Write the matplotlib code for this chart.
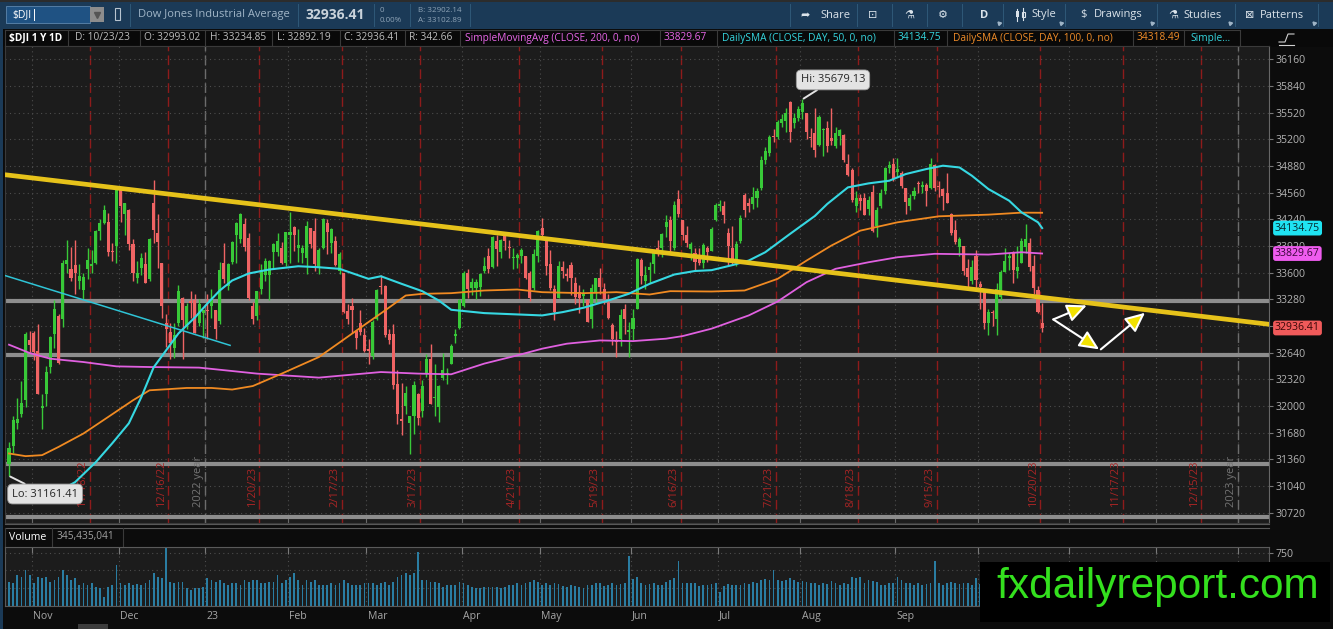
import numpy as np
import pandas as pd
import matplotlib
matplotlib.use("Agg")
import matplotlib.pyplot as plt
from matplotlib.patches import Rectangle, FancyArrowPatch
from matplotlib.transforms import blended_transform_factory as blend

plt.rcParams['font.family'] = ['Open Sans', 'DejaVu Sans']

# ---------------- data ($DJI daily, 10/24/22 - 10/23/23) ----------------
holidays = ['2022-11-24', '2022-12-26', '2023-01-02', '2023-01-16', '2023-02-20',
            '2023-04-07', '2023-05-29', '2023-06-19', '2023-07-04', '2023-09-04',
            '2023-11-23', '2023-12-25', '2024-01-01']

opens = [
    31300, 31520, 31800, 31900, 32070, 32790,
    32880, 32660, 31980, 32140, 32470, 32860, 33080, 33050, 33700, 33640, 33690, 33500, 33390, 33640, 33680, 33720, 34100, 34190, 34210, 33860, 33920,
    34600, 34300, 34350, 33940, 33540, 33650, 33700, 33520, 34440, 34070, 33720, 33000, 32890, 32700, 33000, 33300, 32960, 33260, 33270, 33000, 33120,
    33150, 33200, 33150, 33020, 33710, 33440, 33730, 34050, 34000, 34180, 34020, 33200, 33080, 33400, 33570, 33570, 33850, 33850, 33900, 33720,
    34050, 34150, 33900, 33840, 33770, 34130, 34100, 33670, 33900, 34200, 33960, 33980, 33620, 33600, 33140, 33200, 32900, 33000, 32850,
    32690, 32600, 33040, 33440, 33440, 32870, 32860, 32260, 31840, 32000, 31800, 31880, 32150, 31940, 32390, 32570, 32100, 31990, 32340, 32380, 32500, 32840, 32940,
    33200, 33600, 33420, 33420, 33430, 33620, 33800, 33670, 33980, 33850, 34070, 33910, 33780, 33770, 33800, 33800, 33600, 33420, 33800,
    34130, 34030, 33700, 33400, 33300, 33670, 33580, 33690, 33480, 33370, 33320, 33270, 33040, 33370, 33530, 33400, 33240, 32970, 32780, 32800, 33170, 32890,
    32920, 33160, 33750, 33500, 33630, 33700, 33900, 33900, 34150, 34230, 33900, 34480, 34230, 34050, 33880, 33840, 33760, 33720, 33900, 33860, 34230,
    34400, 34400, 34070, 33900, 33740, 33980, 34530, 34430, 34420, 34490, 34620, 34950, 35040, 35230, 35230, 35400, 35420, 35650, 35390, 35460,
    35530, 35520, 35220, 35270, 35130, 35310, 35340, 35220, 35120, 35240, 35250, 34900, 34830, 34400, 34500, 34500, 34360, 34570, 34160, 34400, 34580, 34850, 34900,
    34810, 34800, 34620, 34400, 34520, 34670, 34630, 34650, 34620, 34890, 34630, 34600, 34550, 34300, 34110, 33910, 33920, 33650, 33500, 33800,
    33460, 33370, 33000, 33130, 33050, 33310, 33610, 33770, 33830, 33620, 33720, 33910, 33960, 33680, 33390, 32993.02,
]
highs = [
    31570, 31880, 32100, 32300, 32890, 32900,
    32900, 32990, 32150, 32480, 32840, 33270, 33100, 33750, 33990, 33910, 33990, 33700, 33590, 33900, 33870, 34110, 34240, 34410, 34320, 33950, 34590,
    34600, 34430, 34360, 34000, 33740, 33830, 33850, 34010, 34710, 34300, 33720, 33100, 33000, 33000, 33450, 33310, 33240, 33380, 33350, 33290, 33150,
    33350, 33410, 33150, 33730, 33950, 33710, 33980, 34210, 34320, 34250, 34080, 33250, 33380, 33700, 33770, 33750, 33960, 34080, 33970, 34090,
    34330, 34160, 34120, 33930, 34220, 34130, 34250, 33900, 34260, 34240, 34130, 34040, 33850, 33600, 33220, 33300, 32910, 33150, 32940,
    32810, 33030, 33400, 33570, 33450, 32920, 32980, 32430, 32280, 32240, 31880, 32300, 32160, 32310, 32630, 32750, 32500, 32250, 32640, 32460, 32750, 32930, 33280,
    33620, 33640, 33540, 33520, 33590, 33790, 33890, 34040, 34050, 34000, 34080, 33990, 33890, 33830, 33900, 33800, 33620, 33880, 34110,
    34260, 34030, 33870, 33450, 33740, 33740, 33650, 33730, 33550, 33450, 33400, 33280, 33460, 33540, 33650, 33470, 33350, 33000, 32900, 33160, 33220, 33010,
    33160, 33780, 33770, 33680, 33730, 33860, 33990, 34070, 34290, 34280, 34460, 34590, 34230, 34160, 33970, 33890, 33900, 33950, 33920, 34150, 34440,
    34470, 34460, 34140, 34160, 33980, 34290, 34560, 34490, 34630, 34620, 35000, 35110, 35250, 35320, 35430, 35500, 35580, 35660, 35510, 35600,
    35679.13, 35520, 35330, 35580, 35490, 35340, 35420, 35580, 35350, 35320, 35260, 35020, 34860, 34580, 34540, 34550, 34520, 34650, 34390, 34600, 34870, 34940, 34980,
    34980, 34820, 34620, 34540, 34630, 34700, 34700, 34680, 34980, 34900, 34700, 34620, 34800, 34310, 34230, 34030, 33920, 33760, 33750, 33870,
    33500, 33400, 33170, 33150, 33480, 33630, 33890, 33830, 33860, 33920, 34020, 34180, 34010, 33810, 33440, 33234.85,
]
lows = [
    31161.41, 31440, 31720, 31870, 31990, 32650,
    32550, 32140, 31730, 32000, 32400, 32700, 32500, 32950, 33600, 33500, 33350, 33400, 33280, 33520, 33600, 33700, 33990, 34180, 33800, 33740, 33710,
    34210, 34050, 33870, 33500, 33480, 33570, 33470, 33500, 33950, 33660, 33060, 32710, 32570, 32580, 32960, 32570, 32920, 33060, 32880, 32960, 32820,
    32810, 33060, 32810, 32980, 33480, 33390, 33700, 33720, 33950, 33860, 33270, 32980, 33030, 33340, 33500, 33270, 33640, 33800, 33700, 33680,
    33710, 33860, 33730, 33720, 33580, 33890, 33620, 33580, 33880, 33820, 33830, 33680, 33580, 33120, 32990, 32880, 32680, 32850, 32650,
    32500, 32570, 33030, 33350, 32830, 32740, 32200, 31790, 31650, 31900, 31430, 31670, 31770, 31870, 32350, 32030, 31880, 31810, 32310, 32260, 32500, 32760, 32930,
    33190, 33300, 33330, 33290, 33320, 33600, 33600, 33660, 33680, 33770, 33870, 33780, 33640, 33650, 33710, 33520, 33260, 33390, 33730,
    34020, 33570, 33390, 33030, 33300, 33540, 33500, 33330, 33220, 33120, 33200, 33010, 32940, 33250, 33350, 33230, 33040, 32730, 32590, 32720, 32860, 32590,
    32790, 33160, 33460, 33400, 33480, 33590, 33800, 33790, 34030, 33850, 33870, 34270, 33990, 33910, 33750, 33620, 33690, 33660, 33730, 33860, 34220,
    34340, 34200, 33690, 33690, 33680, 33960, 34270, 34330, 34360, 34390, 34590, 34900, 35000, 35170, 35200, 35350, 35290, 35170, 35340, 35420,
    35440, 35200, 35110, 34990, 35120, 35000, 35050, 35130, 35090, 35130, 34930, 34760, 34450, 34330, 34350, 34290, 34290, 34090, 34030, 34370, 34540, 34790, 34700,
    34750, 34620, 34300, 34350, 34480, 34550, 34550, 34400, 34600, 34580, 34510, 34350, 34440, 34050, 33940, 33800, 33570, 33430, 33460, 33400,
    33170, 32920, 32850, 32960, 32850, 33270, 33610, 33630, 33480, 33540, 33720, 33830, 33620, 33350, 33120, 32892.19,
]
closes = [
    31500, 31837, 31839, 32033, 32862, 32733,
    32653, 32148, 32001, 32403, 32827, 33161, 32514, 33715, 33748, 33537, 33593, 33554, 33546, 33746, 33700, 34098, 34194, 34347, 33849, 33853, 34590,
    34395, 34430, 33947, 33596, 33598, 33781, 33476, 34005, 34109, 33966, 33202, 32920, 32758, 32850, 33376, 33027, 33204, 33242, 32876, 33221, 33147,
    33136, 33270, 32930, 33631, 33518, 33704, 33973, 34190, 34303, 33911, 33297, 33045, 33375, 33630, 33734, 33744, 33949, 33978, 33717, 34086,
    34093, 34054, 33926, 33891, 34157, 33949, 33700, 33869, 34246, 34089, 34128, 33697, 33827, 33130, 33045, 33154, 32817, 32889, 32657,
    32662, 33004, 33391, 33431, 32856, 32798, 32255, 31910, 31819, 32155, 31875, 32247, 31862, 32245, 32561, 32030, 32105, 32238, 32432, 32394, 32718, 32859, 33274,
    33601, 33402, 33483, 33485, 33587, 33685, 33647, 34030, 33886, 33987, 33977, 33897, 33787, 33809, 33875, 33531, 33302, 33826, 34098,
    34052, 33685, 33414, 33128, 33674, 33619, 33562, 33531, 33310, 33301, 33349, 33012, 33421, 33536, 33427, 33287, 33056, 32800, 32765, 33093, 33043, 32908,
    33062, 33763, 33563, 33573, 33665, 33834, 33877, 34066, 34212, 33979, 34408, 34299, 34054, 33952, 33947, 33727, 33715, 33927, 33853, 34122, 34408,
    34418, 34289, 33922, 33735, 33944, 34261, 34347, 34395, 34509, 34585, 34952, 35061, 35225, 35228, 35411, 35438, 35520, 35283, 35459, 35560,
    35631, 35283, 35216, 35066, 35473, 35314, 35123, 35176, 35281, 35308, 34946, 34766, 34475, 34501, 34464, 34289, 34473, 34099, 34347, 34560, 34853, 34890, 34722,
    34838, 34642, 34443, 34501, 34577, 34664, 34646, 34576, 34907, 34618, 34624, 34518, 34441, 34070, 33964, 34007, 33619, 33550, 33666, 33508,
    33433, 33002, 33130, 33120, 33408, 33605, 33739, 33805, 33631, 33670, 33985, 33998, 33665, 33414, 33127, 32936.41,
]
# volume, millions of shares
volumes = [
    344, 320, 438, 414, 509, 438,
    320, 414, 391, 414, 344, 367, 414, 509, 438, 367, 391, 297, 320, 297, 320, 273, 250, 132, 273, 297, 580,
    320, 297, 320, 297, 306, 297, 320, 367, 462, 414, 391, 815, 344, 320, 344, 344, 250, 226, 250, 250, 273,
    391, 367, 344, 367, 320, 297, 320, 320, 297, 367, 344, 367, 367, 320, 320, 344, 344, 438, 320, 367,
    414, 462, 367, 297, 367, 344, 367, 297, 297, 297, 320, 297, 320, 367, 320, 297, 297, 297, 320,
    320, 320, 297, 320, 344, 297, 344, 414, 438, 462, 438, 462, 754, 367, 367, 344, 344, 320, 273, 297, 297, 297, 344,
    320, 297, 273, 250, 250, 264, 273, 273, 273, 250, 273, 297, 297, 320, 297, 320, 344, 367, 344,
    300, 320, 297, 320, 310, 280, 270, 290, 280, 270, 260, 290, 300, 320, 330, 280, 300, 320, 300, 310, 320, 707,
    380, 414, 320, 300, 310, 330, 290, 300, 340, 370, 400, 640, 330, 320, 330, 320, 280, 290, 300, 310, 320,
    200, 280, 310, 300, 290, 300, 320, 310, 340, 330, 360, 380, 370, 509, 360, 350, 370, 400, 360, 340,
    350, 340, 330, 320, 300, 330, 310, 350, 330, 300, 320, 310, 414, 390, 414, 330, 360, 350, 340, 290, 300, 320, 330,
    414, 360, 330, 320, 300, 320, 300, 310, 320, 640, 320, 300, 330, 340, 330, 310, 330, 320, 300, 390,
    310, 340, 320, 300, 320, 290, 300, 280, 300, 290, 330, 350, 340, 360, 400, 345.435041,
]

# moving averages (bar index, value)
sma50_idx = [9, 16, 21, 25, 29, 32, 35, 38, 41, 45, 48, 51, 54, 58, 63, 70, 75, 80, 87, 90, 95,
             100, 104, 107, 115, 123, 129, 134, 139, 145, 150, 155, 161, 166, 170, 175, 179, 183,
             189, 195, 198, 203, 208, 213, 217, 222, 226, 230, 233, 237, 242, 245, 249, 250]
sma50_val = [30896, 31087, 31327, 31554, 31793, 32105, 32464, 32667, 32871, 33063, 33230,
             33386, 33506, 33590, 33638, 33677, 33665, 33646, 33526, 33557, 33466, 33378, 33266,
             33155, 33115, 33099, 33087, 33127, 33179, 33266, 33347, 33466, 33578, 33620, 33630,
             33690, 33745, 33845, 34065, 34280, 34424, 34623, 34671, 34703, 34783, 34843, 34883,
             34862, 34763, 34603, 34464, 34324, 34204, 34134.75]
sma100_idx = [0, 4, 8, 12, 18, 24, 30, 34, 38, 43, 49, 54, 59, 66, 75, 83, 91, 96, 100, 107, 115,
              123, 129, 139, 147, 155, 160, 170, 178, 186, 193, 199, 206, 215, 225, 237, 245, 250]
sma100_val = [31431, 31399, 31411, 31510, 31670, 31869, 32069, 32189, 32201, 32217, 32217, 32198,
              32240, 32389, 32588, 32868, 33147, 33326, 33346, 33354, 33386, 33398, 33366, 33354,
              33366, 33338, 33378, 33374, 33386, 33526, 33745, 33925, 34104, 34204, 34276, 34296,
              34320, 34318.49]
sma200_idx = [0, 5, 10, 18, 26, 34, 46, 54, 60, 75, 90, 99, 107, 115, 123, 129, 135, 143, 151,
              159, 163, 170, 179, 186, 193, 200, 208, 215, 224, 237, 245, 250]
sma200_val = [32736, 32636, 32568, 32528, 32476, 32468, 32461, 32420, 32389, 32341, 32408, 32389,
              32381, 32509, 32608, 32688, 32748, 32787, 32779, 32808, 32839, 32928, 33087, 33254,
              33486, 33646, 33725, 33785, 33826, 33817, 33845, 33829.67]

# drawings on the chart
trend_idx = [-1, 305]
trend_val = [34775, 32980]
short_trend_idx = [-1, 53.5]
short_trend_val = [33566, 32728]
support_levels = [33266, 32608, 31303, 30672]
arrow_from = [(252.7, 33039), (252.7, 33039), (264.2, 32680)]
arrow_to = [(260.8, 33207), (263.8, 32680), (274.9, 33119)]

price_ticks = list(range(30720, 36161, 320))
hidden_tick = 32960   # sits under the last-price tag

# ---------------- figure ----------------
W, H = 1333, 629
fig = plt.figure(figsize=(W / 100, H / 100), dpi=100, facecolor='#0c0c0c')


def box(x0, y0, x1, y1):
    return [x0 / W, 1 - y1 / H, (x1 - x0) / W, (y1 - y0) / H]


ui = fig.add_axes([0, 0, 1, 1])
ui.set_xlim(0, W)
ui.set_ylim(H, 0)
ui.axis('off')

# toolbar
ui.add_patch(Rectangle((0, 0), W, 29, fc='#1b3a57', ec='none'))
ui.add_patch(Rectangle((0, 0), W, 2, fc='#2c2c2c', ec='none'))
ui.add_patch(Rectangle((6, 6), 84, 17, fc='#1f5283', ec='#5d86ad', lw=0.6))
ui.text(12, 15, '$DJI', color='white', fontsize=7.5, va='center')
ui.plot([34, 34], [9, 20], color='white', lw=0.7)
ui.add_patch(Rectangle((90, 7), 14, 15, fc='#8d8d8d', ec='none'))
ui.plot([97], [14.5], marker='v', ms=4, color='#555555')
ui.add_patch(Rectangle((115, 8), 5, 12, fc='none', ec='#b8c4cf', lw=0.8))
for sx in [130, 298, 374, 410, 470, 790, 857, 892, 927, 962, 1003, 1065, 1157, 1235, 1318]:
    ui.plot([sx, sx], [4, 26], color='#2f5878', lw=0.7)
ui.text(138, 15, 'Dow Jones Industrial Average', color='#9fb4c6', fontsize=8, va='center')
ui.text(306, 15, '32936.41', color='#c9d2da', fontsize=10, fontweight='bold', va='center')
ui.text(380, 10, '0', color='#8ea3b6', fontsize=5.8, va='center')
ui.text(380, 20, '0.00%', color='#8ea3b6', fontsize=5.8, va='center')
ui.text(418, 10, 'B: 32902.14', color='#8ea3b6', fontsize=5.8, va='center')
ui.text(418, 20, 'A: 33102.89', color='#8ea3b6', fontsize=5.8, va='center')
tool_items = [(800, '➦'), (820, 'Share'), (868, '⊡'), (904, '⚗'), (938, '⚙'), (980, 'D'),
              (1031, 'Style'), (1080, '$'), (1094, 'Drawings'), (1168, '⚗'),
              (1183, 'Studies'), (1245, '⊠'), (1260, 'Patterns')]
for tx, tt in tool_items:
    ui.text(tx, 15, tt, color='#dbe3ea', fontsize=8, va='center',
            fontweight='bold' if tt == 'D' else 'normal')
# little candle icon next to "Style"
ui.plot([1017, 1017], [9, 21], color='#dbe3ea', lw=0.8)
ui.plot([1023, 1023], [8, 20], color='#dbe3ea', lw=0.8)
ui.add_patch(Rectangle((1015.5, 11), 3, 6, fc='#dbe3ea', ec='none'))
ui.add_patch(Rectangle((1021.5, 12), 3, 5, fc='none', ec='#dbe3ea', lw=0.8))
for tx in [999, 1061, 1152, 1230, 1314]:
    ui.plot([tx], [23], marker=(3, 0, 45), ms=3, color='#9fb4c6')

# study header row
ui.add_patch(Rectangle((0, 29), W, 18, fc='#090909', ec='none'))
ui.plot([5, 1240], [29.5, 29.5], color='#3a3a3a', lw=0.8)
ui.plot([5, 1240], [46, 46], color='#3a3a3a', lw=0.8)
for sx in [5, 68, 140, 205, 272, 340, 405, 460, 660, 717, 894, 947, 1133, 1184, 1240]:
    ui.plot([sx, sx], [29.5, 46], color='#3a3a3a', lw=0.8)
head_items = [
    (9, '$DJI 1 Y 1D', 'white'), (75, 'D: 10/23/23', '#bdbdbd'),
    (144, f'O: {opens[-1]:.2f}', '#bdbdbd'), (210, f'H: {highs[-1]:.2f}', '#bdbdbd'),
    (277, f'L: {lows[-1]:.2f}', '#bdbdbd'), (344, f'C: {closes[-1]:.2f}', '#bdbdbd'),
    (409, 'R: 342.66', '#bdbdbd'),
    (465, 'SimpleMovingAvg (CLOSE, 200, 0, no)', '#e866e8'), (664, f'{sma200_val[-1]:.2f}', '#e866e8'),
    (722, 'DailySMA (CLOSE, DAY, 50, 0, no)', '#35d6df'), (898, f'{sma50_val[-1]:.2f}', '#35d6df'),
    (953, 'DailySMA (CLOSE, DAY, 100, 0, no)', '#f08c28'), (1137, f'{sma100_val[-1]:.2f}', '#f08c28'),
    (1190, 'Simple...', '#35d6df'),
]
for tx, tt, tc in head_items:
    ui.text(tx, 38, tt, color=tc, fontsize=7.3, va='center',
            fontweight='bold' if tt.startswith('$DJI') else 'normal')
ui.plot([1279, 1285, 1288, 1294], [42, 42, 34, 34], color='#d0d0d0', lw=0.8)
ui.plot([1279, 1294], [44.5, 44.5], color='#d0d0d0', lw=0.8)

# left border and panel separators
ui.add_patch(Rectangle((0, 29), 3, H, fc='#1b3a57', ec='none'))
ui.plot([5, 1269], [523.5, 523.5], color='#5a5a5a', lw=0.8)
ui.plot([5, 1269], [527.5, 527.5], color='#5a5a5a', lw=0.8)
for sx in [5, 52, 123]:
    ui.plot([sx, sx], [527.5, 547], color='#3a3a3a', lw=0.8)
ui.text(9, 537, 'Volume', color='white', fontsize=7.6, va='center')
ui.text(57, 537, f'{volumes[-1] * 1e6:,.0f}', color='#a0a0a0', fontsize=7.3, va='center')
ui.add_patch(Rectangle((78, 624), 30, 5, fc='#3d3d3d', ec='none'))

# ---------------- price panel ----------------
n = len(closes)
idx = np.arange(n)
days = pd.bdate_range('2022-10-24', '2024-01-31', freq='C', holidays=holidays)
xlim = (-0.97, 304.9)

ax = fig.add_axes(box(5, 46, 1269, 523), facecolor='#1c1c1c')
ax.set_xlim(*xlim)
ax.set_ylim(30597, 36319)
tr = blend(ax.transData, ax.transAxes)

month_bounds = [i - 0.5 for i in range(1, len(days)) if days[i].month != days[i - 1].month]
month_bounds = [b for b in month_bounds if b < xlim[1]]
for b in month_bounds:
    ax.axvline(b, color='#4d4d4d', lw=0.8, ls=(0, (1, 3)), zorder=1)
ax.set_yticks(price_ticks)
ax.set_yticklabels(['' if t == hidden_tick else str(t) for t in price_ticks])
ax.grid(axis='y', color='#4d4d4d', lw=0.8, ls=(0, (1, 3)), zorder=1)

# option expiration lines (third Friday)
for per in pd.period_range('2022-11', '2023-12', freq='M'):
    third = pd.date_range(per.start_time, per.end_time, freq='W-FRI')[2]
    i = days.get_loc(third) + 0.5
    ax.axvline(i, color='#8e1b1b', lw=1.0, ls=(0, (7, 3)), zorder=1)
    ax.text(i - 0.35, 0.034, f'{third.month}/{third.day}/{third:%y}', transform=tr,
            rotation=90, ha='right', va='bottom', color='#a82525', fontsize=8)
for yr in [2023, 2024]:
    i = int(np.argmax(days.year == yr)) - 0.5
    ax.axvline(i, color='#6c6c6c', lw=1.0, ls=(0, (7, 3)), zorder=1)
    ax.text(i - 0.35, 0.034, f'{yr - 1} year', transform=tr, rotation=90,
            ha='right', va='bottom', color='#747474', fontsize=8)

for lvl in support_levels:
    ax.axhline(lvl, color='#8d8d8d', lw=3, zorder=2)

# candles
up = np.array(closes) >= np.array(opens)
colors = np.where(up, '#38c938', '#f06464')
body_lo = np.minimum(opens, closes)
body_h = np.maximum(np.abs(np.array(closes) - np.array(opens)), 10)
ax.vlines(idx, lows, highs, colors=colors, lw=1, zorder=3)
ax.bar(idx, body_h, bottom=body_lo, width=0.74, color=colors, lw=0, zorder=3)

ax.plot(sma200_idx, sma200_val, color='#e060e0', lw=1.3, zorder=4)
ax.plot(sma100_idx, sma100_val, color='#f08a22', lw=1.3, zorder=4)
ax.plot(sma50_idx, sma50_val, color='#36d8e2', lw=1.5, zorder=4)
ax.plot(short_trend_idx, short_trend_val, color='#2fc4d6', lw=1.1, zorder=4)
ax.plot(trend_idx, trend_val, color='#e6c21a', lw=3.4, zorder=5, solid_capstyle='butt')

for (x0, y0), (x1, y1) in zip(arrow_from, arrow_to):
    ax.add_patch(FancyArrowPatch((x0, y0), (x1, y1), arrowstyle='-|>,head_length=12,head_width=5.5',
                                 mutation_scale=1, fc='#f2e200', ec='white', lw=1.5,
                                 shrinkA=0, shrinkB=0, zorder=6))

hi_i = int(np.argmax(highs))
lo_i = int(np.argmin(lows))
lbl = dict(fontsize=8, color='#262626', ha='center', va='center', zorder=7,
           bbox=dict(boxstyle='round,pad=0.4,rounding_size=0.45', fc='#e3e3e3', ec='#9a9a9a', lw=0.6))
ax.annotate(f'Hi: {highs[hi_i]:.2f}', xy=(hi_i, highs[hi_i]), xytext=(22, 14),
            textcoords='offset points',
            arrowprops=dict(arrowstyle='-', color='#e3e3e3', lw=1.4, shrinkA=0, shrinkB=1), **lbl)
ax.annotate(f'Lo: {lows[lo_i]:.2f}', xy=(lo_i, lows[lo_i]), xytext=(26, -13),
            textcoords='offset points',
            arrowprops=dict(arrowstyle='-', color='#e3e3e3', lw=1.4, shrinkA=0, shrinkB=1), **lbl)

ax.yaxis.tick_right()
ax.tick_params(axis='y', color='#777777', labelcolor='#b3b3b3', labelsize=7.6, length=3, pad=2, width=0.8)
ax.set_xticks(month_bounds)
ax.tick_params(axis='x', direction='in', length=4, color='#6a6a6a', labelbottom=False)
for s in ax.spines.values():
    s.set_color('#3a3a3a')
ax.spines['right'].set_color('#666666')

tags = [(sma50_val[-1], '#1fe3f2', '#062a30'), (sma200_val[-1], '#ef5cef', '#3a063a'),
        (closes[-1], '#f05a5a', '#3a0808')]
for val, fc, tc in tags:
    ax.text(1.0 + 6 / 1264, val, f'{val:.2f}', transform=blend(ax.transAxes, ax.transData),
            ha='left', va='center', fontsize=7.6, color=tc, clip_on=False, zorder=8,
            bbox=dict(boxstyle='round,pad=0.18,rounding_size=0.25', fc=fc, ec='none'))

# ---------------- volume panel ----------------
axv = fig.add_axes(box(5, 547, 1269, 606), facecolor='#1c1c1c')
axv.set_xlim(*xlim)
axv.set_ylim(0, 830)
for b in month_bounds:
    axv.axvline(b, color='#4d4d4d', lw=0.8, ls=(0, (1, 3)), zorder=1)
axv.set_yticks([250, 500, 750])
axv.set_yticklabels(['', '', '750'])
axv.grid(axis='y', color='#4d4d4d', lw=0.8, ls=(0, (1, 3)), zorder=1)
axv.bar(idx, volumes, width=0.42, color='#2a7da2', lw=0, zorder=2)
axv.yaxis.tick_right()
axv.tick_params(axis='y', color='#777777', labelcolor='#b3b3b3', labelsize=7.6, length=3, pad=2, width=0.8)
axv.set_xticks(month_bounds)
axv.tick_params(axis='x', direction='in', length=5, top=True, bottom=False,
                color='#7a7a7a', labelbottom=False)
for s in axv.spines.values():
    s.set_color('#5a5a5a')
trv = blend(axv.transData, axv.transAxes)
for b in month_bounds:
    d = days[int(b + 0.5)]
    name = f'{d:%y}' if d.month == 1 else f'{d:%b}'
    axv.text(b + 0.3, -0.17, name, transform=trv, ha='left', va='center',
             color='#a6a6a6', fontsize=7.6, clip_on=False)

# ---------------- watermark ----------------
ov = fig.add_axes([0, 0, 1, 1])
ov.set_xlim(0, W)
ov.set_ylim(H, 0)
ov.axis('off')
ov.patch.set_alpha(0)
ov.add_patch(Rectangle((980, 562), 350, 60, fc='black', ec='none'))
ov.text(1158, 587, 'fxdailyreport.com', color='#34e01e', fontsize=30.5,
        family='Liberation Sans', ha='center', va='center')

fig.savefig('out.png', dpi=100, facecolor=fig.get_facecolor())
